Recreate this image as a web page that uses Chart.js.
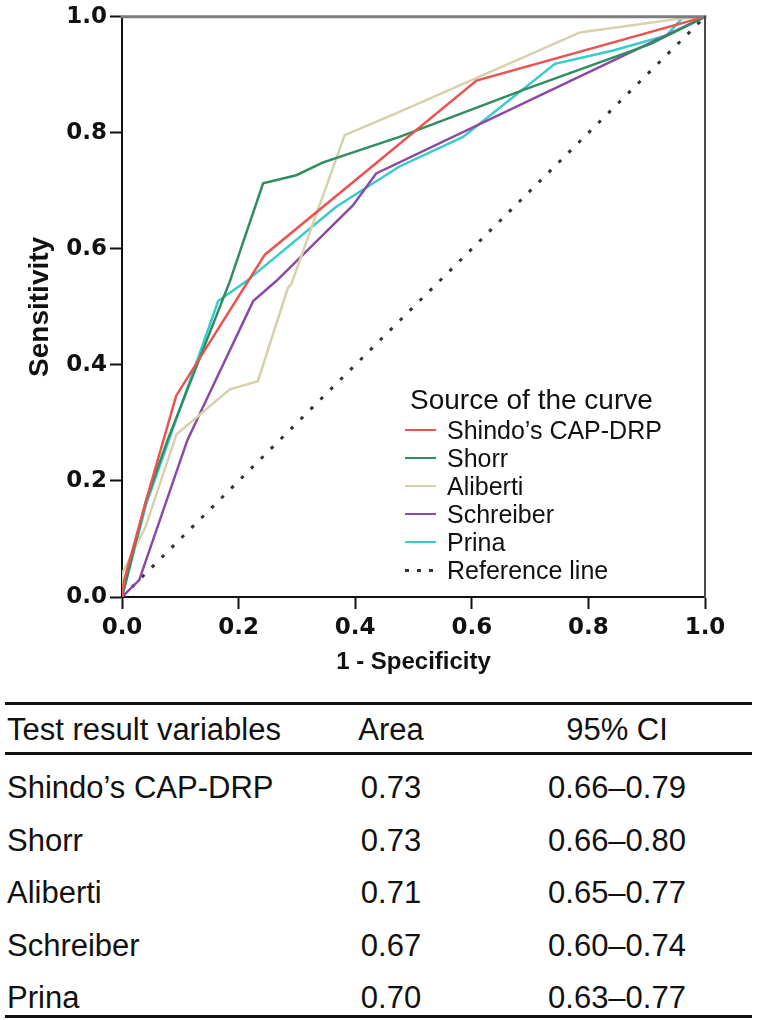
<!DOCTYPE html>
<html><head><meta charset="utf-8">
<script src="https://cdn.jsdelivr.net/npm/chart.js@4.4.1/dist/chart.umd.min.js"></script>
<style>
html,body{margin:0;padding:0;background:#fff;}
#wrap{position:relative;width:759px;height:1020px;overflow:hidden;font-family:"Liberation Sans",Arial,sans-serif;color:#111;}
#c{position:absolute;left:0;top:0;}
#legend{position:absolute;left:405px;top:384px;}
#legend .ttl{font-size:28px;line-height:32px;margin-left:5px;}
#legend .row{height:28px;display:flex;align-items:center;}
#legend .sw{width:31px;height:2.5px;margin-right:11px;}
#legend .lb{font-size:25px;line-height:28px;}
.rule{position:absolute;left:5px;width:747px;height:3px;background:#111;}
.cell{position:absolute;font-size:31px;line-height:36px;white-space:nowrap;}
</style></head><body>
<div id="wrap">
<canvas id="c" width="759" height="690"></canvas>
<div id="legend"></div>
<div id="table"></div>
</div>
<script>
// ---- data ----
const seriesNames = ["Shindo\u2019s CAP-DRP", "Shorr", "Aliberti", "Schreiber", "Prina"];
const shindoX = [0, 0.004, 0.0415, 0.093, 0.245, 0.608, 1];
const shindoY = [0, 0.03, 0.167, 0.347, 0.59, 0.89, 1];
const shorrX = [0, 0.005, 0.041, 0.078, 0.185, 0.242, 0.299, 0.345, 0.476, 0.691, 0.906, 1];
const shorrY = [0, 0.02, 0.165, 0.27, 0.544, 0.713, 0.727, 0.749, 0.793, 0.875, 0.953, 1];
const alibertiX = [0, 0, 0.04, 0.09, 0.093, 0.185, 0.233, 0.2847, 0.29, 0.382, 0.476, 0.7854, 0.951, 1];
const alibertiY = [0, 0.04, 0.12, 0.27, 0.28, 0.358, 0.372, 0.533, 0.5385, 0.796, 0.836, 0.973, 0.996, 1];
const schreiberX = [0, 0.0295, 0.112, 0.133, 0.225, 0.265, 0.396, 0.436, 1];
const schreiberY = [0, 0.029, 0.27, 0.315, 0.51, 0.545, 0.675, 0.73, 1];
const prinaX = [0, 0.005, 0.0415, 0.165, 0.213, 0.368, 0.476, 0.585, 0.7425, 0.8426, 0.934, 0.963, 1];
const prinaY = [0, 0.02, 0.16, 0.51, 0.544, 0.673, 0.742, 0.793, 0.919, 0.942, 0.968, 1.0, 1];
const refName = "Reference line";
const refX = [0, 1];
const refY = [0, 1];
const tickValues = [0, 0.2, 0.4, 0.6, 0.8, 1.0];
const tickLabels = ["0.0", "0.2", "0.4", "0.6", "0.8", "1.0"];
const legendTitle = "Source of the curve";
const xTitle = "1 - Specificity";
const yTitle = "Sensitivity";
const tableHeader = ["Test result variables", "Area", "95% CI"];
const areas = ["0.73", "0.73", "0.71", "0.67", "0.70"];
const cis = ["0.66\u20130.79", "0.66\u20130.80", "0.65\u20130.77", "0.60\u20130.74", "0.63\u20130.77"];

// ---- styles ----
const colors = ["#ec5250", "#2f8d5e", "#d6d1ac", "#8c4aa6", "#36cccc"];
const refColor = "#333333";

const xs = [shindoX, shorrX, alibertiX, schreiberX, prinaX];
const ys = [shindoY, shorrY, alibertiY, schreiberY, prinaY];
const pts = (X, Y) => X.map((x, i) => ({x: x, y: Y[i]}));

const datasets = seriesNames.map((n, i) => ({
  label: n, data: pts(xs[i], ys[i]), borderColor: colors[i], borderWidth: 2.5,
  pointRadius: 0, tension: 0, fill: false
}));
datasets.push({label: refName, data: pts(refX, refY), borderColor: refColor, borderWidth: 3,
  borderDash: [3.5, 10.5], pointRadius: 0, tension: 0, fill: false, borderCapStyle: 'butt'});

const frame = {
  id: 'frame',
  afterDatasetsDraw(chart) {
    const a = chart.chartArea, ctx = chart.ctx;
    ctx.save();
    ctx.lineCap = 'square';
    ctx.strokeStyle = '#7d7d7d'; ctx.lineWidth = 3;
    ctx.beginPath(); ctx.moveTo(a.left, a.top); ctx.lineTo(a.right, a.top); ctx.stroke();
    ctx.strokeStyle = '#4a4a4a'; ctx.lineWidth = 2;
    ctx.beginPath(); ctx.moveTo(a.right, a.top); ctx.lineTo(a.right, a.bottom); ctx.stroke();
    ctx.restore();
  }
};

const tickFont = {family: '"DejaVu Sans", sans-serif', size: 23, weight: 'bold'};
const xTitleFont = {family: '"Liberation Sans", Arial, sans-serif', size: 24, weight: 'bold'};
const yTitleFont = {family: '"Liberation Sans", Arial, sans-serif', size: 28, weight: 'bold'};
function axis(extra) {
  return Object.assign({
    type: 'linear', min: 0, max: 1,
    afterBuildTicks: s => { s.ticks = tickValues.map(v => ({value: v})); },
    grid: {display: true, drawOnChartArea: false, drawTicks: true, tickLength: 12, tickColor: '#111', tickWidth: 2},
    border: {display: true, color: '#111', width: 2},
  }, extra);
}

new Chart(document.getElementById('c'), {
  type: 'line',
  data: {datasets: datasets},
  options: {
    responsive: false, animation: false,
    layout: {padding: {left: 0, right: 54, top: 14, bottom: 0}},
    plugins: {legend: {display: false}, tooltip: {enabled: false}},
    scales: {
      x: axis({
        position: 'bottom',
        ticks: {font: tickFont, color: '#111', padding: 5, maxRotation: 0, callback: (v, i) => tickLabels[i]},
        title: {display: true, text: xTitle, font: xTitleFont, color: '#111', padding: {top: 0, bottom: 13}},
        afterFit: s => { s.height = 93; }
      }),
      y: axis({
        position: 'left',
        ticks: {font: tickFont, color: '#111', padding: 3, callback: (v, i) => tickLabels[i]},
        title: {display: true, text: yTitle, font: yTitleFont, color: '#111', padding: {top: 23, bottom: 0}},
        afterFit: s => { s.width = 122; }
      })
    }
  },
  plugins: [frame]
});

// ---- HTML legend ----
const lg = document.getElementById('legend');
let h = '<div class="ttl">' + legendTitle + '</div>';
seriesNames.forEach((n, i) => {
  h += '<div class="row"><span class="sw" style="background:' + colors[i] + '"></span><span class="lb">' + n + '</span></div>';
});
h += '<div class="row"><span class="sw" style="height:3px;background:repeating-linear-gradient(to right,' + refColor + ' 0 4px,transparent 4px 12px)"></span><span class="lb">' + refName + '</span></div>';
lg.innerHTML = h;

// ---- table ----
const tb = document.getElementById('table');
const colCenters = [null, 391, 617];
const rowCenters = [730, 788, 840.5, 893, 945.5, 998];
const rules = [702, 752, 1015];
let t = '';
rules.forEach(y => { t += '<div class="rule" style="top:' + y + 'px"></div>'; });
function cell(text, col, yc) {
  if (col === 0) return '<div class="cell" style="left:7px;top:' + (yc - 18) + 'px">' + text + '</div>';
  return '<div class="cell" style="left:' + (colCenters[col] - 150) + 'px;width:300px;text-align:center;top:' + (yc - 18) + 'px">' + text + '</div>';
}
tableHeader.forEach((txt, c) => { t += cell(txt, c, rowCenters[0]); });
seriesNames.forEach((n, i) => {
  t += cell(n, 0, rowCenters[i + 1]);
  t += cell(areas[i], 1, rowCenters[i + 1]);
  t += cell(cis[i], 2, rowCenters[i + 1]);
});
tb.innerHTML = t;
</script>
</body></html>
